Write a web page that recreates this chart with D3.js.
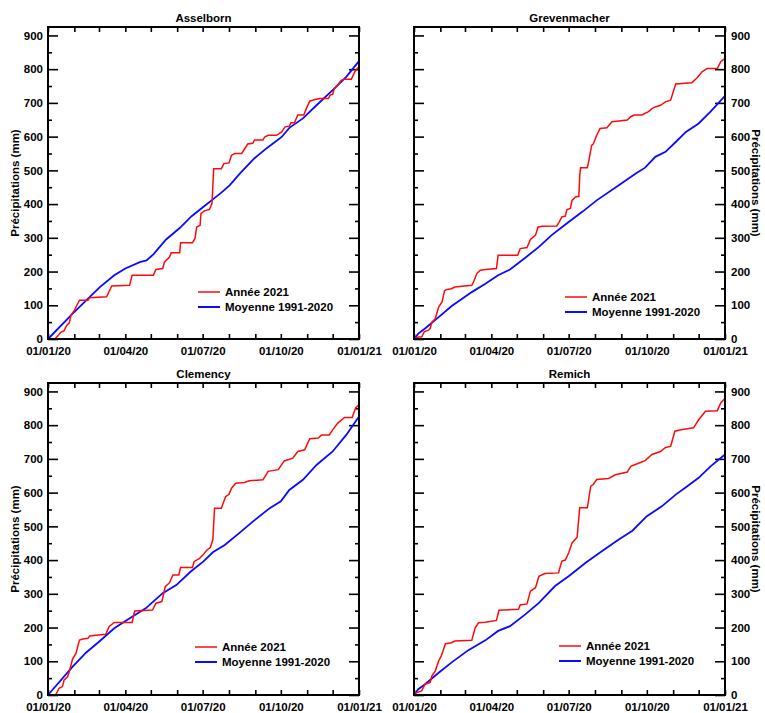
<!DOCTYPE html>
<html>
<head>
<meta charset="utf-8">
<script src="https://cdn.jsdelivr.net/npm/d3@7"></script>
<style>
	body { margin: 0; background: #fff; }
	svg text { font-family: "Liberation Sans", Arial, sans-serif; font-weight: bold; fill: #000; }
</style>
</head>
<body>
<svg id="chart" width="765" height="713"></svg>
<script>
// cumulative precipitation, [day of year, mm]
const asselborn2021 = [[0,0],[8,0],[12,10],[15,20],[19,25],[22,40],[25,47],[27,70],[31,85],[34,100],[37,115],[47,115],[49,122],[69,125],[75,157],[96,159],[99,189],[124,189],[127,206],[135,209],[137,228],[143,243],[145,256],[155,256],[156,285],[170,285],[173,298],[175,332],[179,337],[180,372],[184,380],[190,384],[193,402],[195,505],[204,505],[207,520],[213,522],[216,545],[220,550],[228,550],[233,570],[235,578],[241,580],[243,590],[253,590],[255,599],[259,604],[269,604],[275,614],[279,629],[284,631],[286,641],[290,641],[294,664],[301,664],[304,683],[308,705],[314,710],[320,713],[330,713],[332,723],[335,725],[337,743],[341,753],[345,767],[349,770],[357,770],[361,792],[364,802],[366,807]];
const asselbornNormal = [[0,0],[29,75],[61,154],[78,189],[91,209],[108,228],[116,233],[124,251],[139,295],[155,329],[169,364],[183,392],[194,414],[204,434],[214,456],[226,491],[243,536],[257,565],[275,599],[284,626],[300,654],[316,693],[335,738],[351,777],[366,824]];

const grevenmacher2021 = [[0,0],[5,6],[9,6],[12,21],[17,26],[19,31],[21,50],[25,60],[29,95],[33,110],[36,144],[39,147],[44,149],[48,154],[68,159],[70,169],[74,194],[78,204],[84,206],[97,209],[99,248],[122,248],[125,268],[133,271],[137,295],[143,308],[146,332],[151,334],[168,335],[171,347],[174,362],[178,364],[180,384],[184,387],[186,411],[190,421],[194,423],[195,482],[196,508],[204,508],[206,532],[209,574],[211,578],[215,604],[219,624],[227,626],[233,644],[241,646],[251,649],[255,659],[259,664],[268,664],[276,674],[280,683],[284,688],[290,693],[296,703],[302,708],[308,756],[327,760],[333,774],[339,792],[345,802],[357,802],[361,822],[366,832]];
const grevenmacherNormal = [[0,0],[5,16],[13,31],[29,65],[44,97],[68,139],[84,164],[99,189],[113,206],[131,241],[147,273],[162,308],[182,347],[198,377],[215,411],[241,456],[261,491],[272,508],[284,540],[296,555],[308,584],[320,614],[335,639],[349,674],[366,721]];

const clemency2021 = [[0,0],[9,0],[13,20],[17,25],[19,45],[23,54],[25,69],[29,107],[33,124],[37,163],[41,166],[47,168],[49,175],[59,178],[68,180],[72,203],[78,215],[99,215],[102,249],[123,252],[127,272],[134,277],[138,321],[143,333],[147,356],[154,356],[156,378],[170,378],[172,396],[178,404],[183,417],[187,430],[191,437],[194,460],[196,554],[204,554],[209,588],[213,595],[216,613],[221,628],[231,630],[237,635],[253,638],[259,663],[271,668],[278,694],[288,702],[294,722],[302,727],[308,760],[318,762],[322,771],[331,771],[335,786],[341,806],[349,823],[358,823],[362,851],[366,860]];
const clemencyNormal = [[0,0],[29,84],[45,126],[60,158],[78,198],[99,232],[115,257],[135,302],[151,326],[168,366],[183,396],[194,423],[208,445],[225,480],[241,514],[261,554],[274,574],[284,608],[300,638],[316,682],[335,722],[351,771],[366,826]];

const remich2021 = [[0,0],[3,7],[9,12],[13,32],[19,37],[21,56],[25,71],[29,101],[32,115],[37,152],[44,155],[48,160],[68,162],[72,199],[76,214],[84,216],[97,221],[100,251],[123,254],[125,267],[133,270],[137,308],[143,318],[147,352],[154,360],[170,362],[174,397],[178,400],[182,421],[186,451],[192,468],[195,555],[204,555],[208,619],[211,624],[215,639],[229,642],[237,653],[251,661],[255,678],[265,688],[272,695],[280,713],[290,722],[296,734],[302,737],[307,782],[316,787],[329,792],[335,816],[343,841],[357,843],[361,866],[366,880]];
const remichNormal = [[0,0],[5,17],[13,32],[29,66],[44,96],[64,133],[84,162],[99,190],[113,204],[131,239],[147,273],[166,323],[182,352],[202,392],[221,426],[241,461],[257,487],[274,530],[292,560],[308,594],[320,616],[335,644],[349,678],[366,713]];

const stations = ["Asselborn", "Grevenmacher", "Clemency", "Remich"];
const seriesYear = [asselborn2021, grevenmacher2021, clemency2021, remich2021];
const seriesNormal = [asselbornNormal, grevenmacherNormal, clemencyNormal, remichNormal];
const legendLabels = ["Année 2021", "Moyenne 1991-2020"];
const yTicks = [0, 100, 200, 300, 400, 500, 600, 700, 800, 900];

// layout
const W = 311, H = 312;
const panels = [
	{ x: 48,  y: 27,  side: "left",  legend: [150, 265] },
	{ x: 414, y: 27,  side: "right", legend: [151, 270] },
	{ x: 48,  y: 383, side: "left",  legend: [147, 264] },
	{ x: 414, y: 383, side: "right", legend: [145, 263] },
];

const start = new Date(2020, 0, 1), end = new Date(2021, 0, 1);
const dayToDate = d => d3.timeDay.offset(start, d);
const fmt = d3.timeFormat("%d/%m/%y");

const svg = d3.select("#chart");

panels.forEach((p, i) => {
	const g = svg.append("g").attr("transform", `translate(${p.x},${p.y})`);
	const x = d3.scaleTime().domain([start, end]).range([0, W]);
	const y = d3.scaleLinear().domain([0, 925]).range([H, 0]);

	const months = d3.timeMonth.range(start, d3.timeDay.offset(end, 1));
	const minorY = d3.range(50, 925, 100);

	// ticks along every frame side, pointing inward
	const axB = d3.axisBottom(x).tickValues(months).tickSize(-5).tickFormat("");
	const axT = d3.axisTop(x).tickValues(months).tickSize(-5).tickFormat("");
	g.append("g").attr("transform", `translate(0,${H})`).call(axB);
	g.append("g").call(axT);
	[[d3.axisLeft, 0], [d3.axisRight, W]].forEach(([ax, tx]) => {
		g.append("g").attr("transform", `translate(${tx},0)`).call(ax(y).tickValues(yTicks).tickSize(-10).tickFormat(""));
		g.append("g").attr("transform", `translate(${tx},0)`).call(ax(y).tickValues(minorY).tickSize(-4).tickFormat(""));
	});
	g.selectAll(".domain").remove();
	g.selectAll(".tick line").attr("stroke", "#000").attr("stroke-width", 1.6);

	// labels
	const xLab = g.append("g").attr("transform", `translate(0,${H})`)
		.call(d3.axisBottom(x).tickValues(months.filter(m => m.getMonth() % 3 === 0)).tickSize(0).tickPadding(8).tickFormat(fmt));
	const yLab = p.side === "left"
		? g.append("g").call(d3.axisLeft(y).tickValues(yTicks).tickSize(0).tickPadding(5))
		: g.append("g").attr("transform", `translate(${W},0)`).call(d3.axisRight(y).tickValues(yTicks).tickSize(0).tickPadding(6));
	[xLab, yLab].forEach(a => {
		a.select(".domain").remove();
		a.selectAll("text").attr("font-size", 11.5).attr("font-family", null).attr("fill", "#000");
	});

	g.append("text").attr("x", W / 2).attr("y", -5).attr("text-anchor", "middle")
		.attr("font-size", 11.5).text(stations[i]);

	const lx = p.side === "left" ? -29 : W + 27;
	g.append("text").attr("transform", `translate(${lx},${H / 2}) rotate(${p.side === "left" ? -90 : 90})`)
		.attr("text-anchor", "middle").attr("font-size", 11.5).text("Précipitations (mm)");

	// curves
	const line = d3.line().x(d => x(dayToDate(d[0]))).y(d => y(d[1]));
	g.append("path").datum(seriesNormal[i]).attr("d", line)
		.attr("fill", "none").attr("stroke", "#0a0aff").attr("stroke-width", 1.8);
	g.append("path").datum(seriesYear[i]).attr("d", line)
		.attr("fill", "none").attr("stroke", "#ff0a0a").attr("stroke-width", 1.5);

	// frame
	g.append("rect").attr("width", W).attr("height", H)
		.attr("fill", "none").attr("stroke", "#000").attr("stroke-width", 2);

	// legend
	const lg = g.append("g").attr("transform", `translate(${p.legend[0]},${p.legend[1]})`);
	[["#ff0a0a", 1.5], ["#0a0aff", 2]].forEach(([c, sw], k) => {
		lg.append("line").attr("x1", 0).attr("x2", 22).attr("y1", k * 15).attr("y2", k * 15)
			.attr("stroke", c).attr("stroke-width", sw);
		lg.append("text").attr("x", 27).attr("y", k * 15 + 4).attr("font-size", 11.5).text(legendLabels[k]);
	});
});
</script>
</body>
</html>
